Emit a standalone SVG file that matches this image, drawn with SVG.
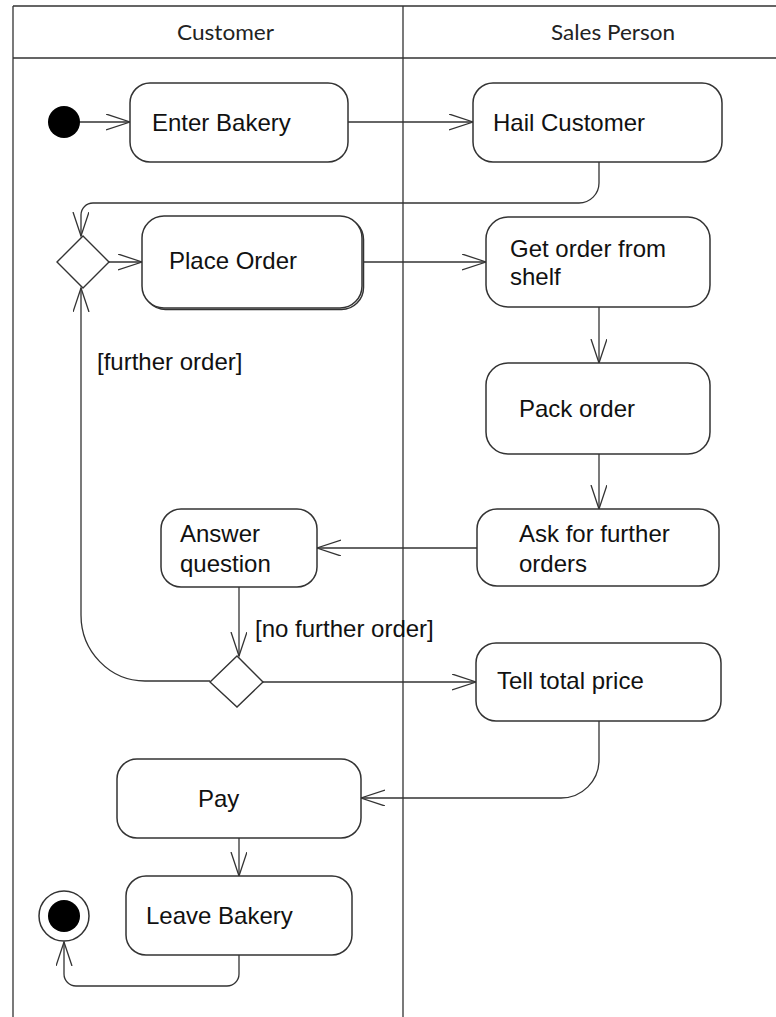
<svg xmlns="http://www.w3.org/2000/svg" width="776" height="1017" viewBox="0 0 776 1017">
  <style>
    .lane { stroke: #333; stroke-width: 1.3; fill: none; }
    .hdr { font-family: Lato, "Open Sans", sans-serif; font-size: 22px; fill: #222; }
    .box { fill: #fff; stroke: #333; stroke-width: 1.5; }
    .lbl { font-family: "Liberation Sans", Arial, sans-serif; font-size: 24px; fill: #111; }
    .edge { fill: none; stroke: #333; stroke-width: 1.3; marker-end: url(#open); }
    .dec { fill: #fff; stroke: #333; stroke-width: 1.4; }
  </style>
  <defs>
    <marker id="open" markerUnits="userSpaceOnUse" markerWidth="26" markerHeight="18" refX="24" refY="8" orient="auto">
      <path d="M0,0 L24,8 L0,16" fill="none" stroke="#333" stroke-width="1.3"/>
    </marker>
  </defs>
  <rect width="776" height="1017" fill="#fff"/>

  <!-- swimlanes -->
  <g id="lanes">
    <path class="lane" d="M13,6 H776 M13,58 H776 M13,6 V1017 M403,6 V1017"/>
    <text class="hdr" x="177" y="40" textLength="97" lengthAdjust="spacingAndGlyphs">Customer</text>
    <text class="hdr" x="551" y="40" textLength="124" lengthAdjust="spacingAndGlyphs">Sales Person</text>
  </g>

  <!-- control flows -->
  <g id="connectors">
    <path class="edge" d="M80,122 H130"/>
    <path class="edge" d="M348,122 H473"/>
    <path class="edge" d="M599,162 V183 A20,20 0 0 1 579,203 H93 A12,12 0 0 0 81,215 V236"/>
    <path class="edge" d="M109,262 H142"/>
    <path class="edge" d="M362,262 H486"/>
    <path class="edge" d="M599,307 V363"/>
    <path class="edge" d="M599,454 V509"/>
    <path class="edge" d="M477,548 H317"/>
    <path class="edge" d="M239,587 V656"/>
    <path class="edge" d="M210,681 H145 A64,66 0 0 1 81,615 V288"/>
    <path class="edge" d="M263,682 H476"/>
    <path class="edge" d="M599,721 V760 A38,38 0 0 1 561,798 H361"/>
    <path class="edge" d="M239,838 V876"/>
    <path class="edge" d="M239,955 V974 A12,12 0 0 1 227,986 H76 A12,12 0 0 1 64,974 V942"/>
    <text class="lbl" x="97" y="370">[further order]</text>
    <text class="lbl" x="255" y="637">[no further order]</text>
  </g>

  <g id="start"><circle cx="64" cy="122" r="16" fill="#000"/></g>

  <g id="enter-bakery">
    <rect class="box" x="130" y="83" width="218" height="79" rx="20"/>
    <text class="lbl" x="152" y="131">Enter Bakery</text>
  </g>

  <g id="hail-customer">
    <rect class="box" x="473" y="83" width="249" height="79" rx="20"/>
    <text class="lbl" x="493" y="131">Hail Customer</text>
  </g>

  <g id="merge">
    <polygon class="dec" points="57,262 83,236 109,262 83,288"/>
  </g>

  <g id="place-order">
    <rect class="box" x="143.5" y="217.5" width="220" height="92" rx="22" stroke-width="1"/>
    <rect class="box" x="142" y="216" width="220" height="92" rx="22"/>
    <text class="lbl" x="169" y="269">Place Order</text>
  </g>

  <g id="get-order">
    <rect class="box" x="486" y="217" width="224" height="90" rx="22"/>
    <text class="lbl" x="510" y="257">Get order from</text>
    <text class="lbl" x="510" y="285">shelf</text>
  </g>

  <g id="pack-order">
    <rect class="box" x="486" y="363" width="224" height="91" rx="22"/>
    <text class="lbl" x="519" y="417">Pack order</text>
  </g>

  <g id="ask-further">
    <rect class="box" x="477" y="509" width="242" height="77" rx="20"/>
    <text class="lbl" x="519" y="542">Ask for further</text>
    <text class="lbl" x="519" y="572">orders</text>
  </g>

  <g id="answer-question">
    <rect class="box" x="161" y="509" width="156" height="78" rx="20"/>
    <text class="lbl" x="180" y="542">Answer</text>
    <text class="lbl" x="180" y="572">question</text>
  </g>

  <g id="decision">
    <polygon class="dec" points="210,682 237,656 263,682 237,707"/>
  </g>

  <g id="tell-price">
    <rect class="box" x="476" y="643" width="245" height="78" rx="20"/>
    <text class="lbl" x="497" y="689">Tell total price</text>
  </g>

  <g id="pay">
    <rect class="box" x="117" y="759" width="244" height="79" rx="20"/>
    <text class="lbl" x="198" y="807">Pay</text>
  </g>

  <g id="leave-bakery">
    <rect class="box" x="126" y="876" width="226" height="79" rx="20"/>
    <text class="lbl" x="146" y="924">Leave Bakery</text>
  </g>

  <g id="end">
    <circle cx="64" cy="916" r="25" fill="#fff" stroke="#333" stroke-width="1.5"/>
    <circle cx="64" cy="916" r="16" fill="#000"/>
  </g>
</svg>
